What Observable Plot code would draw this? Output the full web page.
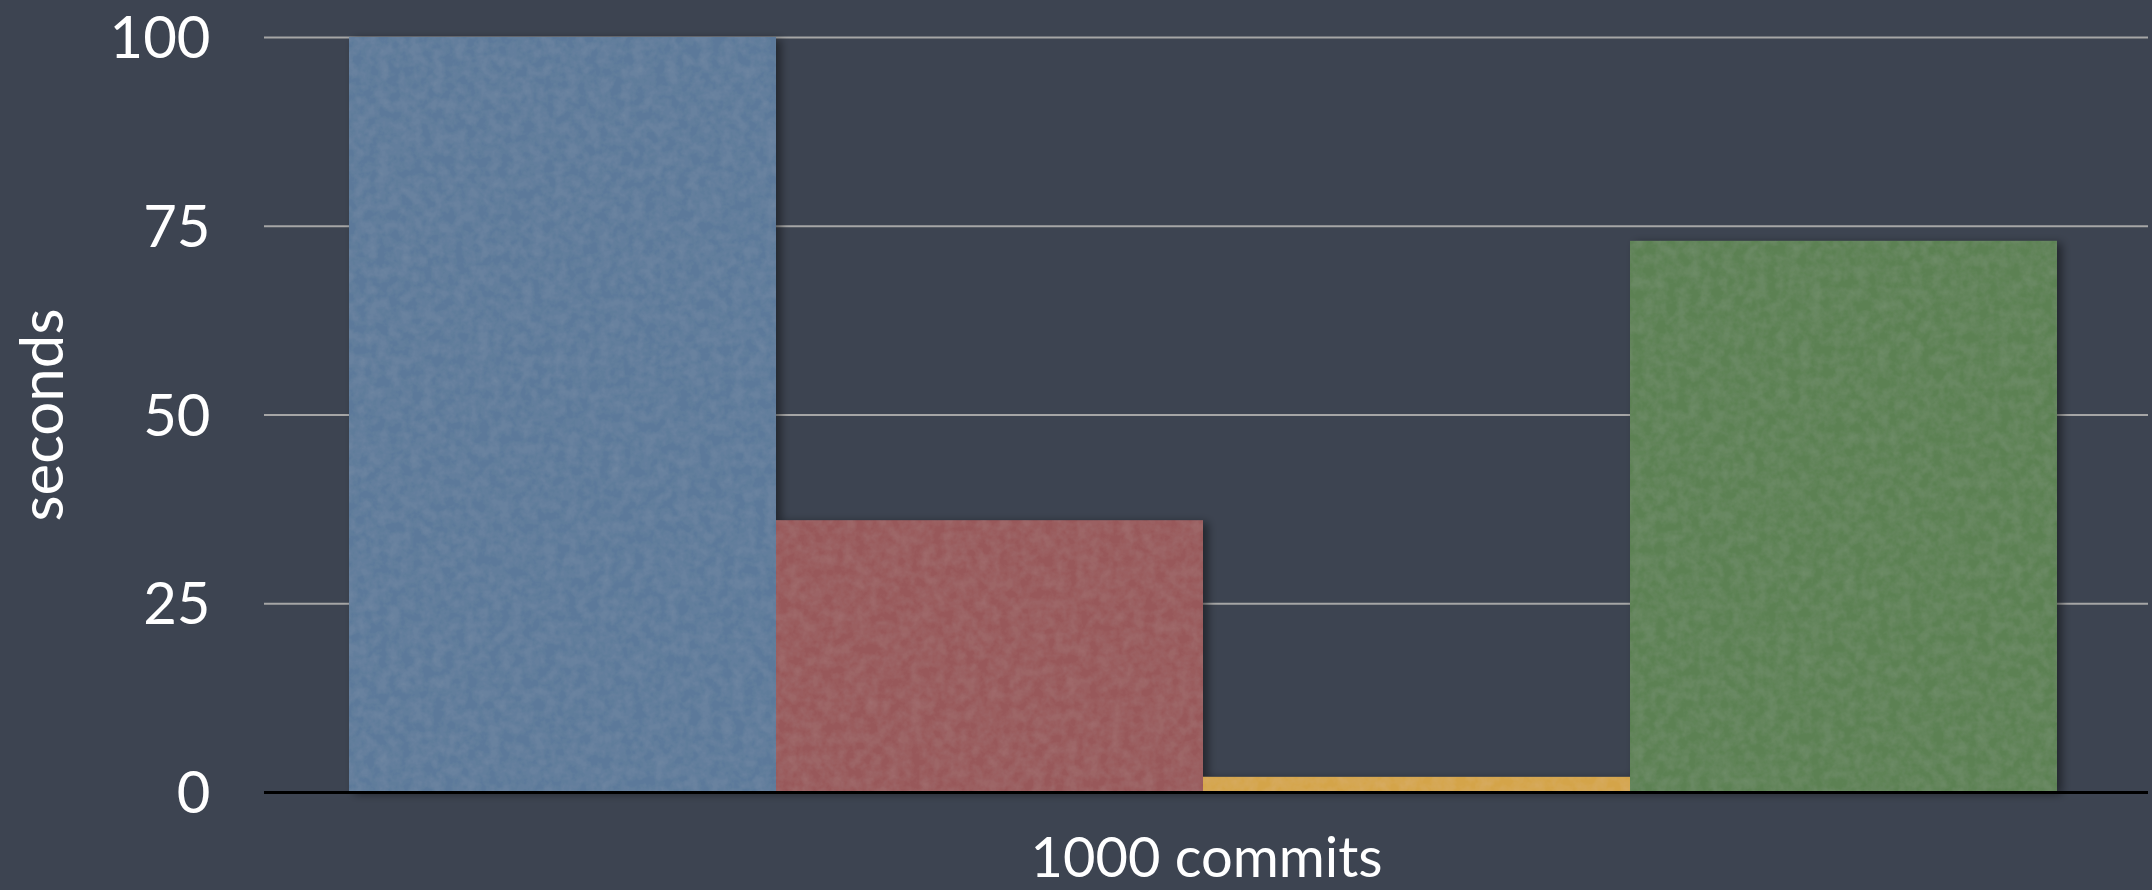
<!DOCTYPE html>
<html>
<head>
<meta charset="utf-8">
<script src="https://cdn.jsdelivr.net/npm/d3@7"></script>
<script src="https://cdn.jsdelivr.net/npm/@observablehq/plot@0.6"></script>
<style>
  html, body { margin: 0; padding: 0; background: #3d4451; }
  #chart { width: 2152px; height: 890px; overflow: hidden; }
</style>
</head>
<body>
<svg width="0" height="0" style="position:absolute">
  <defs>
    <filter id="paper" x="-5%" y="-5%" width="115%" height="115%">
      <feTurbulence type="fractalNoise" baseFrequency="0.09" numOctaves="3" seed="4" result="noise"/>
      <feColorMatrix in="noise" type="matrix"
        values="0 0 0 0 1  0 0 0 0 1  0 0 0 0 1  0 0 0 0.09 -0.025" result="speck"/>
      <feComposite in="speck" in2="SourceGraphic" operator="in" result="speckIn"/>
      <feMerge result="textured">
        <feMergeNode in="SourceGraphic"/>
        <feMergeNode in="speckIn"/>
      </feMerge>
      <feGaussianBlur in="SourceAlpha" stdDeviation="5" result="blur"/>
      <feOffset in="blur" dx="5" dy="2" result="off"/>
      <feComponentTransfer in="off" result="shadow">
        <feFuncA type="linear" slope="0.45"/>
      </feComponentTransfer>
      <feMerge>
        <feMergeNode in="shadow"/>
        <feMergeNode in="textured"/>
      </feMerge>
    </filter>
  </defs>
</svg>
<div id="chart"></div>
<script>
// Data
const groups = ["1000 commits"];
const series = ["A", "B", "C", "D"];
const values = [100, 36, 2, 73];
const colors = ["#5c799a", "#98585a", "#d4a448", "#5b8152"];
const yTicks = [0, 25, 50, 75, 100];
const yLabel = "seconds";

const data = series.map((s, i) => ({group: groups[0], series: s, value: values[i]}));

const chart = Plot.plot({
  width: 2152,
  height: 890,
  marginLeft: 264,
  marginRight: 4,
  marginTop: 37,
  marginBottom: 98,
  style: {
    background: "#3d4451",
    color: "#ffffff",
    fontFamily: "Lato, 'Open Sans', sans-serif",
    fontSize: "58px"
  },
  fx: {domain: groups, padding: 0, label: null},
  x: {domain: series, paddingInner: 0, paddingOuter: 0.205, align: 0.485, axis: null},
  y: {domain: [0, 100], label: null},
  color: {domain: series, range: colors},
  marks: [
    Plot.gridY(yTicks.filter(d => d > 0), {stroke: "#a6a6a6", strokeOpacity: 1, strokeWidth: 2}),
    Plot.barY(data, {
      fx: "group", x: "series", y: "value", fill: "series",
      imageFilter: "url(#paper)"
    }),
    Plot.ruleY([0], {stroke: "#000000", strokeWidth: 3}),
    Plot.axisY(yTicks, {tickSize: 0, tickPadding: 54, fontSize: 58, dy: 2, label: null, fill: "#ffffff"}),
    Plot.axisFx({anchor: "bottom", tickSize: 0, tickPadding: 45, fontSize: 56, label: null, fill: "#ffffff"}),
    Plot.text([yLabel], {
      text: d => d, frameAnchor: "left", textAnchor: "middle", rotate: -90, dx: -221,
      fill: "#ffffff", fontSize: 60
    })
  ]
});

document.getElementById("chart").appendChild(chart);
</script>
</body>
</html>
